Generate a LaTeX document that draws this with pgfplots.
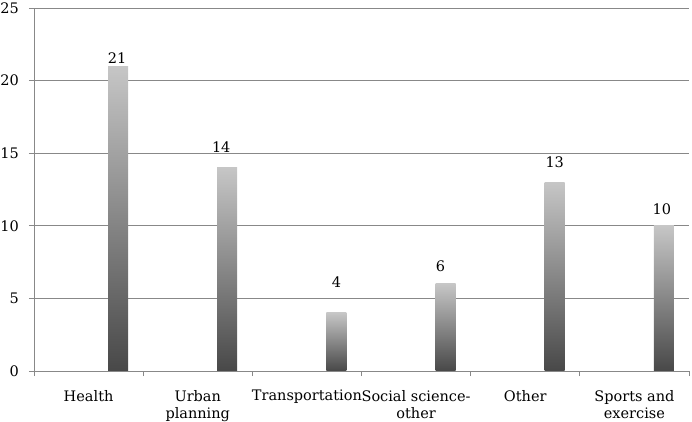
\documentclass[border=0pt]{standalone}
\usepackage{fontspec}
\setmainfont{DejaVu Serif}
\usepackage{pgfplots}
\pgfplotsset{compat=1.18}
\definecolor{axgray}{RGB}{136,136,136}
\definecolor{bartop}{RGB}{198,198,198}
\definecolor{barbot}{RGB}{72,72,72}
\pgfplotsset{
  mybar/.style={ybar, bar shift=0pt, bar width=20pt, draw=none,
    top color=bartop, bottom color=barbot, nodes near coords,
    every node near coord/.append style={anchor=base, inner sep=0pt, black}},
}

\begin{document}
\begin{tikzpicture}[font=\fontsize{14.5}{19.5}\selectfont]
\begin{axis}[
  at={(0,0)}, anchor=south west,
  width=655pt, height=363pt, scale only axis,
  xmin=-0.5, xmax=5.5, ymin=0, ymax=25,
  ytick={0,5,...,25},
  xtick={0,...,5},
  xticklabels={Health, Urban\\planning, Transportation, Social science-\\other, Other, Sports and\\exercise},
  xticklabel style={align=center, anchor=north, inner sep=0pt, yshift=-14pt,
    font=\fontsize{14.5}{17.5}\selectfont},
  yticklabel style={anchor=east, inner sep=0pt, xshift=-10pt},
  minor xtick={-0.5,0.5,...,5.5},
  major x tick style={draw=none},
  minor tick length=5pt, major tick length=5pt,
  tick align=outside,
  axis x line*=bottom, axis y line*=left,
  ymajorgrids, grid style={axgray, line width=0.9pt},
  axis line style={axgray, line width=0.9pt},
  tick style={axgray, line width=0.9pt},
  /pgf/number format/assume math mode=true,
  clip=false,
]
\addplot[mybar, every node near coord/.append style={yshift=3pt, xshift=-1pt}] coordinates {(0.27,21)};
\addplot[mybar, every node near coord/.append style={yshift=15pt, xshift=-6pt}] coordinates {(1.27,14)};
\addplot[mybar, every node near coord/.append style={yshift=25pt, xshift=0pt}] coordinates {(2.27,4)};
\addplot[mybar, every node near coord/.append style={yshift=12pt, xshift=-5pt}] coordinates {(3.27,6)};
\addplot[mybar, every node near coord/.append style={yshift=15pt, xshift=0pt}] coordinates {(4.27,13)};
\addplot[mybar, every node near coord/.append style={yshift=11pt, xshift=-2pt}] coordinates {(5.27,10)};
\end{axis}
\pgfresetboundingbox
\path[use as bounding box] (-34pt,-51pt) rectangle (658pt,371pt);
\end{tikzpicture}
\end{document}
